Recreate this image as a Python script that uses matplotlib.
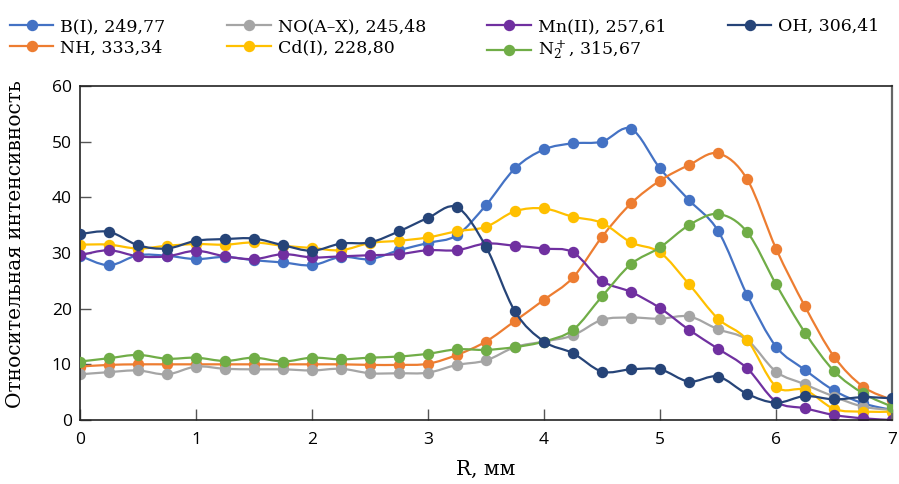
import numpy as np
import matplotlib
matplotlib.use("Agg")
import matplotlib.pyplot as plt
from matplotlib.path import Path
from matplotlib.patches import PathPatch
from matplotlib.lines import Line2D

r_mm = [0, 0.25, 0.5, 0.75, 1, 1.25, 1.5, 1.75, 2, 2.25, 2.5, 2.75, 3, 3.25, 3.5,
        3.75, 4, 4.25, 4.5, 4.75, 5, 5.25, 5.5, 5.75, 6, 6.25, 6.5, 6.75, 7]

b_i = [29.5, 27.8, 29.6, 29.5, 28.9, 29.3, 28.7, 28.3, 27.8, 29.3, 28.9, 30.5, 31.8, 33.2, 38.6,
       45.2, 48.6, 49.7, 50.0, 52.3, 45.2, 39.5, 34.0, 22.5, 13.2, 9.0, 5.3, 3.0, 1.8]
nh = [9.6, 9.9, 10.0, 10.0, 10.0, 10.0, 10.0, 10.0, 10.0, 10.0, 9.9, 9.9, 10.1, 11.7, 14.1,
      17.8, 21.6, 25.6, 32.9, 38.9, 43.0, 45.8, 47.9, 43.3, 30.8, 20.4, 11.4, 6.0, 3.6]
no_ax = [8.2, 8.6, 8.9, 8.2, 9.6, 9.2, 9.1, 9.1, 8.9, 9.2, 8.4, 8.4, 8.5, 9.9, 10.7,
         13.1, 14.1, 15.2, 18.0, 18.4, 18.2, 18.6, 16.3, 14.4, 8.7, 6.4, 4.2, 2.4, 1.8]
cd_i = [31.5, 31.5, 30.8, 31.3, 31.6, 31.5, 31.9, 31.3, 30.9, 30.5, 31.8, 32.2, 32.8, 33.9, 34.7,
        37.5, 38.0, 36.5, 35.4, 31.9, 30.1, 24.4, 18.2, 14.4, 6.0, 5.4, 2.0, 1.5, 1.5]
mn_ii = [29.6, 30.5, 29.4, 29.4, 30.4, 29.4, 28.9, 29.8, 29.2, 29.4, 29.6, 29.8, 30.5, 30.5, 31.7,
         31.3, 30.8, 30.1, 25.0, 23.0, 20.1, 16.2, 12.8, 9.3, 3.3, 2.1, 0.9, 0.3, 0.0]
n2_plus = [10.5, 11.1, 11.7, 11.0, 11.2, 10.6, 11.2, 10.5, 11.2, 10.9, 11.2, 11.4, 11.9, 12.7, 12.6,
           13.1, 14.1, 16.2, 22.2, 28.0, 31.0, 35.0, 37.0, 33.8, 24.4, 15.7, 8.8, 4.8, 2.4]
oh = [33.4, 33.8, 31.4, 30.8, 32.2, 32.5, 32.6, 31.4, 30.4, 31.7, 31.9, 33.9, 36.3, 38.2, 31.1,
      19.5, 14.1, 12.0, 8.7, 9.1, 9.1, 6.9, 7.8, 4.7, 3.1, 4.3, 3.7, 4.1, 3.9]

labels = ["B(I), 249,77", "NH, 333,34", "NO(A–X), 245,48", "Cd(I), 228,80",
          "Mn(II), 257,61", "N$_2^+$, 315,67", "OH, 306,41"]
series = [b_i, nh, no_ax, cd_i, mn_ii, n2_plus, oh]
colors = ["#4472C4", "#ED7D31", "#A5A5A5", "#FFC000", "#7030A0", "#70AD47", "#264478"]
draw_order = [2, 1, 5, 3, 0, 4, 6]

x_ticks = [0, 1, 2, 3, 4, 5, 6, 7]
y_ticks = [0, 10, 20, 30, 40, 50, 60]

plt.rcParams["mathtext.fontset"] = "dejavuserif"

fig = plt.figure(figsize=(8.99, 4.84), dpi=100)
ax = fig.add_axes([80 / 899, 1 - 420 / 484, (892 - 80) / 899, (420 - 86) / 484])


def smooth_path(x, y):
    x = np.asarray(x, float)
    y = np.asarray(y, float)
    pts = np.column_stack([x, y])
    n = len(pts)
    verts = [pts[0]]
    codes = [Path.MOVETO]
    for i in range(n - 1):
        p0 = pts[i - 1] if i > 0 else pts[i]
        p1 = pts[i]
        p2 = pts[i + 1]
        p3 = pts[i + 2] if i + 2 < n else pts[i + 1]
        c1 = p1 + (p2 - p0) / 6.0
        c2 = p2 - (p3 - p1) / 6.0
        verts += [c1, c2, p2]
        codes += [Path.CURVE4] * 3
    return Path(verts, codes)


for i in draw_order:
    col = colors[i]
    patch = PathPatch(smooth_path(r_mm, series[i]), facecolor="none", edgecolor=col,
                      lw=1.6, transform=ax.transData, zorder=2 + i * 0.1)
    ax.add_patch(patch)
    ax.plot(r_mm, series[i], linestyle="none", marker="o", markersize=7.2,
            color=col, markeredgecolor=col, zorder=2.05 + i * 0.1)

ax.set_xlim(0, 7)
ax.set_ylim(0, 60)
ax.set_xticks(x_ticks)
ax.set_yticks(y_ticks)
tick_font = {"family": "Open Sans", "size": 12.5}
ax.set_xticklabels([str(t) for t in x_ticks], fontdict=tick_font)
ax.set_yticklabels([str(t) for t in y_ticks], fontdict=tick_font)
ax.tick_params(axis="both", direction="in", length=8, width=1, color="#555555", pad=6)
ax.tick_params(axis="x", pad=9)
for s in ax.spines.values():
    s.set_linewidth(1.2)
    s.set_color("#222222")
ax.spines["right"].set_color("#666666")
ax.spines["right"].set_linewidth(1.6)

ax.set_xlabel("R, мм", family="DejaVu Serif", fontsize=14.5, labelpad=8)
ax.set_ylabel("Относительная интенсивность", family="DejaVu Serif", fontsize=14.5)
ax.yaxis.set_label_coords(-0.068, 0.528)

handles = [Line2D([0], [0], color=c, lw=1.6, marker="o", markersize=7.2) for c in colors]
fig.legend(handles, labels, loc="upper left", bbox_to_anchor=(10 / 899, 1 - 18 / 484),
           ncol=4, frameon=False, prop={"family": "DejaVu Serif", "size": 12.5},
           borderpad=0, borderaxespad=0, handlelength=2.5, handletextpad=0.4,
           columnspacing=3.55, labelspacing=0.25)

fig.savefig("out.png", dpi=100)
